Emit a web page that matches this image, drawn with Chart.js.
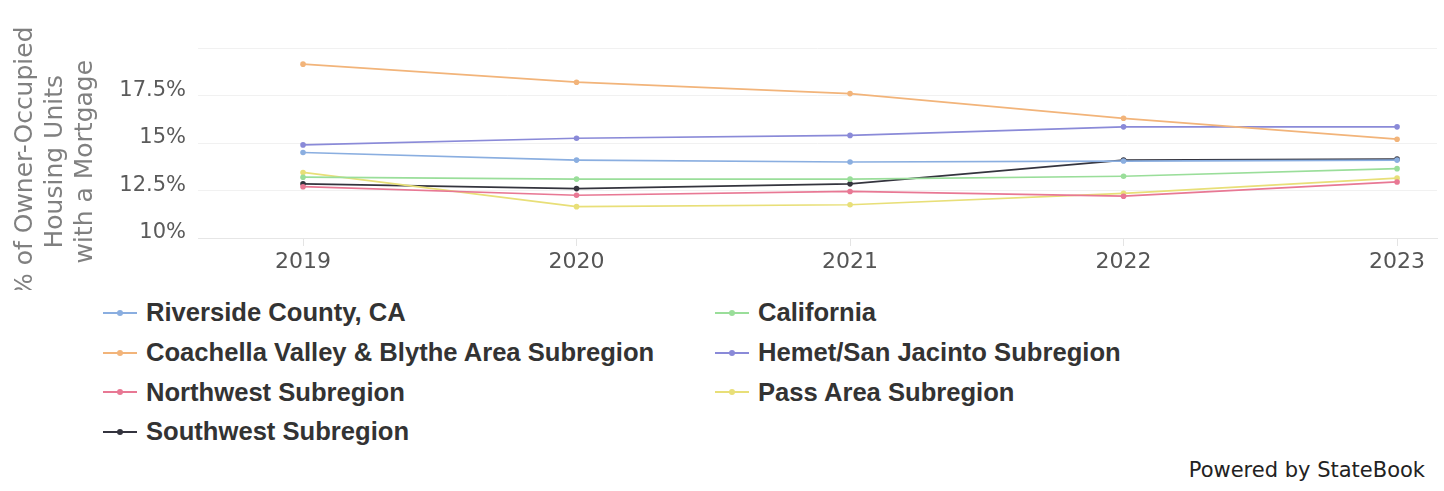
<!DOCTYPE html>
<html>
<head>
<meta charset="utf-8">
<script src="https://cdn.jsdelivr.net/npm/chart.js@4.4.0/dist/chart.umd.min.js"></script>
<style>
    body {
        margin: 0;
        background: #fff;
        width: 1444px;
        height: 491px;
        position: relative;
        overflow: hidden;
    }
    #chartBox {
        position: absolute;
        left: 0;
        top: 0;
        width: 1444px;
        height: 290px;
    }
    #legend {
        position: absolute;
        left: 103px;
        top: 293px;
        display: grid;
        grid-template-columns: 612px 600px;
        grid-auto-rows: 39.7px;
        font-family: "Liberation Sans", Arial, sans-serif;
        font-weight: bold;
        font-size: 25.6px;
        color: #333;
    }
    .legend-item {
        display: flex;
        align-items: center;
    }
    .legend-mark {
        position: relative;
        width: 34px;
        height: 2px;
        margin-right: 9px;
    }
    .legend-mark span {
        position: absolute;
        left: 14px;
        top: -2px;
        width: 6px;
        height: 6px;
        border-radius: 50%;
    }
    #footer {
        position: absolute;
        right: 19px;
        top: 458px;
        font-family: "DejaVu Sans", sans-serif;
        font-size: 21px;
        color: #222;
    }
</style>
</head>
<body>
<div id="chartBox"><canvas id="growthChart" width="1444" height="290"></canvas></div>
<div id="legend"></div>
<div id="footer">Powered by StateBook</div>
<script>
// Data
const years = [2019, 2020, 2021, 2022, 2023];
const yTicks = [10, 12.5, 15, 17.5, 20];

const riverside = [14.5, 14.1, 14.0, 14.05, 14.1];
const california = [13.2, 13.1, 13.1, 13.25, 13.65];
const coachella = [19.15, 18.2, 17.6, 16.3, 15.2];
const hemet = [14.9, 15.25, 15.4, 15.85, 15.85];
const northwest = [12.7, 12.25, 12.45, 12.2, 12.95];
const passArea = [13.45, 11.65, 11.75, 12.35, 13.15];
const southwest = [12.85, 12.6, 12.85, 14.1, 14.15];

const seriesNames = [
    'Riverside County, CA',
    'California',
    'Coachella Valley & Blythe Area Subregion',
    'Hemet/San Jacinto Subregion',
    'Northwest Subregion',
    'Pass Area Subregion',
    'Southwest Subregion'
];
const seriesValues = [riverside, california, coachella, hemet, northwest, passArea, southwest];
const seriesColors = ['#8aaee0', '#9ade9a', '#f2b47a', '#8a8ad8', '#e87894', '#e8df78', '#34343e'];

function buildDatasets() {
    return seriesNames.map((name, i) => ({
        label: name,
        data: seriesValues[i].map((v, j) => ({ x: years[j], y: v })),
        borderColor: seriesColors[i],
        backgroundColor: seriesColors[i],
        borderWidth: 1.7,
        pointRadius: 2.8,
        pointBorderWidth: 0,
        tension: 0
    }));
}

function initializeChart() {
    const ctx = document.getElementById('growthChart').getContext('2d');
    return new Chart(ctx, {
        type: 'line',
        data: { datasets: buildDatasets() },
        options: {
            responsive: false,
            animation: false,
            events: [],
            layout: { padding: { top: 48, right: 7, bottom: 0, left: 0 } },
            plugins: {
                legend: { display: false },
                tooltip: { enabled: false }
            },
            scales: {
                x: {
                    type: 'linear',
                    min: 2018.616,
                    max: 2023.146,
                    afterBuildTicks: scale => {
                        scale.ticks = years.map(v => ({ value: v }));
                    },
                    afterFit: scale => { scale.height = 52; },
                    grid: {
                        drawOnChartArea: false,
                        color: '#e4e4e4',
                        tickLength: 8
                    },
                    border: { color: '#e6e6e6' },
                    ticks: {
                        font: { family: 'DejaVu Sans', size: 22 },
                        color: '#555',
                        padding: 3,
                        callback: value => String(value)
                    }
                },
                y: {
                    min: 10,
                    max: 20,
                    afterBuildTicks: scale => {
                        scale.ticks = yTicks.map(v => ({ value: v }));
                    },
                    afterFit: scale => { scale.width = 198; },
                    grid: {
                        color: '#f1f1f1',
                        drawTicks: false
                    },
                    border: { display: false },
                    ticks: {
                        font: { family: 'DejaVu Sans', size: 21 },
                        color: '#5a5a5a',
                        padding: 12,
                        labelOffset: -5,
                        callback: value => value === 20 ? '' : value + '%'
                    },
                    title: {
                        display: true,
                        // trailing spaces nudge the rotated text down a little, as in the original
                        text: ['% of Owner-Occupied\u2002\u2002\u2002', 'Housing Units\u2002\u2002\u2002', 'with a Mortgage\u2002\u2002\u2002'],
                        font: { family: 'DejaVu Sans', size: 25, lineHeight: 1.2 },
                        color: '#808080',
                        padding: { top: 10, bottom: 0 }
                    }
                }
            }
        }
    });
}

// Legend as two columns, built from the chart datasets
function buildLegend(chart) {
    const legend = document.getElementById('legend');
    chart.data.datasets.forEach(ds => {
        const item = document.createElement('div');
        item.className = 'legend-item';
        item.innerHTML = `
            <div class="legend-mark" style="background:${ds.borderColor}"><span style="background:${ds.borderColor}"></span></div>
            <div>${ds.label.replace('&', '&amp;')}</div>
        `;
        legend.appendChild(item);
    });
}

const chart = initializeChart();
buildLegend(chart);
</script>
</body>
</html>
